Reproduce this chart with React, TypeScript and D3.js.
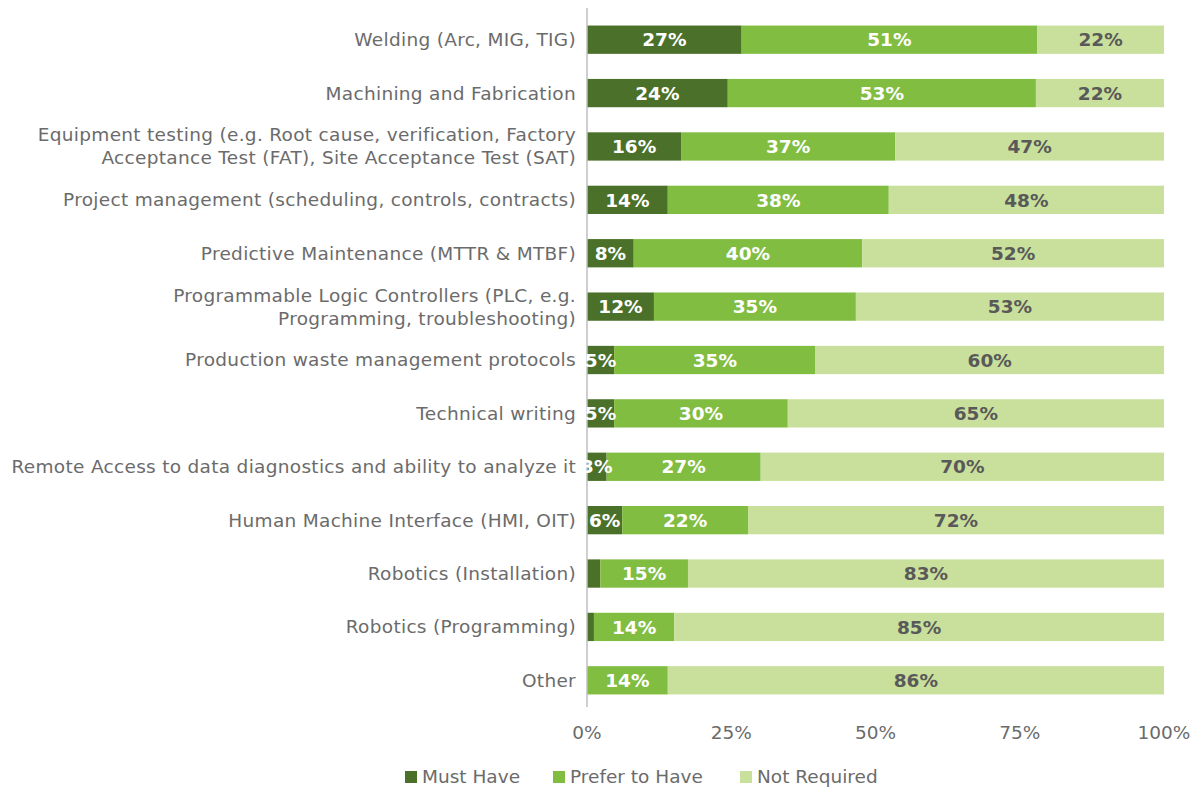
import React from "react";
import * as d3 from "d3";

const categories: string[][] = [
  ["Welding (Arc, MIG, TIG)"],
  ["Machining and Fabrication"],
  ["Equipment testing (e.g. Root cause, verification, Factory", "Acceptance Test (FAT), Site Acceptance Test (SAT)"],
  ["Project management (scheduling, controls, contracts)"],
  ["Predictive Maintenance (MTTR & MTBF)"],
  ["Programmable Logic Controllers (PLC, e.g.", "Programming, troubleshooting)"],
  ["Production waste management protocols"],
  ["Technical writing"],
  ["Remote Access to data diagnostics and ability to analyze it"],
  ["Human Machine Interface (HMI, OIT)"],
  ["Robotics (Installation)"],
  ["Robotics (Programming)"],
  ["Other"],
];

const mustHave = [26.8, 24.4, 16.3, 14.0, 8.1, 11.6, 4.7, 4.7, 3.4, 6.1, 2.3, 1.2, 0];
const preferToHave = [51.2, 53.4, 37.1, 38.3, 39.6, 35.0, 34.9, 30.1, 26.7, 21.8, 15.2, 13.9, 14.0];
const notRequired = [22.0, 22.2, 46.6, 47.7, 52.3, 53.4, 60.4, 65.2, 69.9, 72.1, 82.5, 84.9, 86.0];

const seriesNames = ["Must Have", "Prefer to Have", "Not Required"];
const seriesColors = ["#4b7029", "#81bd41", "#c9e09c"];
const labelColors = ["#ffffff", "#ffffff", "#595959"];
const xTicks = [0, 25, 50, 75, 100];

const FONT = "'DejaVu Sans', sans-serif";
const TEXT_COLOR = "#6b6b6b";

export default function App() {
  const width = 1198;
  const height = 790;
  const left = 587;
  const right = 1164;
  const top = 13;
  const bottom = 707;

  const x = d3.scaleLinear().domain([0, 100]).range([left, right]);
  const y = d3
    .scaleBand<number>()
    .domain(d3.range(categories.length))
    .range([top, bottom])
    .paddingInner(0.47)
    .paddingOuter(0.235);

  const seriesData = [mustHave, preferToHave, notRequired];
  const stackInput = categories.map((_, i) => ({
    i,
    s0: mustHave[i],
    s1: preferToHave[i],
    s2: notRequired[i],
  }));
  const stack = d3.stack<any>().keys(["s0", "s1", "s2"]);
  const stacked = stack(stackInput);

  const legendX = [405, 553, 740];

  return (
    <svg width={width} height={height} style={{ position: "absolute", left: 0, top: 0 }} fontFamily={FONT}>
      <rect width={width} height={height} fill="#ffffff" />
      {stacked.map((layer, si) => (
        <g key={si}>
          {layer.map((d, i) => {
            const x0 = x(d[0]);
            const x1 = x(d[1]);
            if (x1 - x0 <= 0) return null;
            return (
              <rect
                key={i}
                x={x0}
                y={y(i)!}
                width={x1 - x0}
                height={y.bandwidth()}
                fill={seriesColors[si]}
              />
            );
          })}
        </g>
      ))}
      <line x1={left} x2={left} y1={8} y2={bottom} stroke="#bfbfbf" strokeWidth={1.5} />
      {stacked.map((layer, si) => (
        <g key={"l" + si}>
          {layer.map((d, i) => {
            const v = seriesData[si][i];
            if (v < 3) return null;
            const cx = (x(d[0]) + x(d[1])) / 2;
            return (
              <text
                key={i}
                x={cx}
                y={y(i)! + y.bandwidth() / 2}
                dy="0.36em"
                textAnchor="middle"
                fontSize={18.5}
                fontWeight="bold"
                fill={labelColors[si]}
              >
                {Math.round(v)}%
              </text>
            );
          })}
        </g>
      ))}
      {categories.map((lines, i) => {
        const cy = y(i)! + y.bandwidth() / 2;
        const lh = 23;
        const start = cy - ((lines.length - 1) * lh) / 2;
        return (
          <text key={i} textAnchor="end" fontSize={18.5} letterSpacing={0.3} fill={TEXT_COLOR}>
            {lines.map((ln, j) => (
              <tspan key={j} x={576} y={start + j * lh} dy="0.35em">
                {ln}
              </tspan>
            ))}
          </text>
        );
      })}
      {xTicks.map((t) => (
        <text key={t} x={x(t)} y={733} dy="0.35em" textAnchor="middle" fontSize={18.5} fill={TEXT_COLOR}>
          {t}%
        </text>
      ))}
      {seriesNames.map((n, i) => (
        <g key={n}>
          <rect x={legendX[i]} y={771} width={12} height={12} fill={seriesColors[i]} />
          <text x={legendX[i] + 17} y={777} dy="0.35em" fontSize={18.5} fill={TEXT_COLOR}>
            {n}
          </text>
        </g>
      ))}
    </svg>
  );
}
